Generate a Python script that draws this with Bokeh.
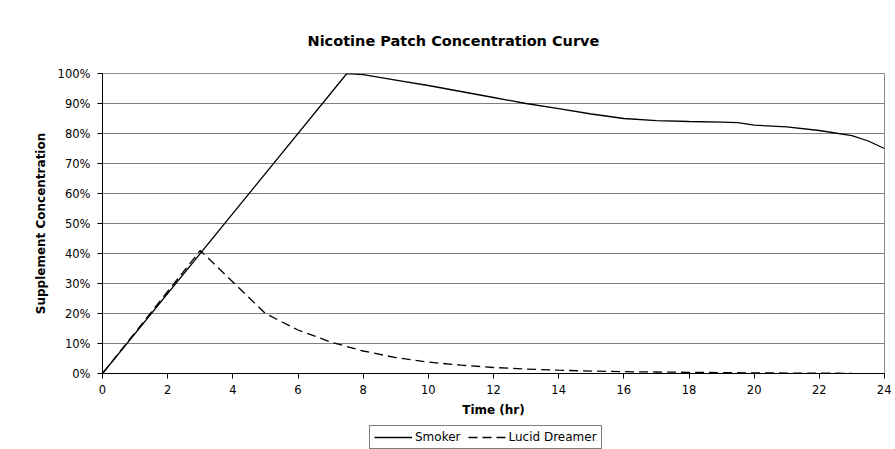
from bokeh.plotting import figure
from bokeh.layouts import column
from bokeh.models import FixedTicker, NumeralTickFormatter, Legend, LegendItem, Range1d
from bokeh.embed import file_html
from bokeh.resources import INLINE

# Data
smoker_t = [0, 7.5, 8, 9, 10, 11, 12, 13, 14, 15, 16, 17, 18, 19, 19.5, 20, 21, 22, 23, 23.5, 24]
smoker_v = [0, 100, 99.6, 97.8, 96, 94, 92, 90, 88.3, 86.5, 85, 84.3, 84, 83.8, 83.6, 82.8, 82.2, 81, 79.3, 77.5, 75]
lucid_t = [0, 3, 4, 5, 6, 7, 8, 9, 10, 11, 12, 13, 14, 15, 16, 17, 18, 19, 20, 21, 22, 23]
lucid_v = [0, 41, 30.5, 20, 14.5, 10.5, 7.5, 5.3, 3.8, 2.8, 2.0, 1.5, 1.1, 0.8, 0.6, 0.5, 0.4, 0.3, 0.2, 0.15, 0.1, 0.05]
x_ticks = [0, 2, 4, 6, 8, 10, 12, 14, 16, 18, 20, 22, 24]
y_ticks = [0, 0.1, 0.2, 0.3, 0.4, 0.5, 0.6, 0.7, 0.8, 0.9, 1.0]
series_names = ["Smoker", "Lucid Dreamer"]

FONT = "DejaVu Sans"
DASH = "9 5"

p = figure(width=891, height=420, output_backend="svg", toolbar_location=None,
           x_range=Range1d(0, 24), y_range=Range1d(0, 1),
           min_border_left=102, min_border_right=7, min_border_top=73, min_border_bottom=47)

p.title.text = "Nicotine Patch Concentration Curve"
p.title.align = "left"
p.title.offset = 205
p.title.standoff = 50
p.title.text_font = FONT
p.title.text_font_size = "14.5px"
p.title.text_font_style = "bold"
p.title.text_color = "black"

p.background_fill_color = "white"
p.border_fill_color = "white"
p.outline_line_color = "#8c8c8c"
p.outline_line_width = 1

s = p.line(smoker_t, [v / 100 for v in smoker_v], line_color="black", line_width=1.3)
l = p.line(lucid_t, [v / 100 for v in lucid_v], line_color="black", line_width=1.3,
           line_dash=DASH)

# axes
p.xaxis.ticker = FixedTicker(ticks=x_ticks)
p.yaxis.ticker = FixedTicker(ticks=y_ticks)
p.yaxis.formatter = NumeralTickFormatter(format="0%")
for ax in (p.xaxis, p.yaxis):
    ax.axis_line_color = "black"
    ax.major_tick_line_color = "black"
    ax.major_tick_out = 5
    ax.major_tick_in = 0
    ax.minor_tick_line_color = None
    ax.major_label_text_font = FONT
    ax.major_label_text_font_size = "11.5px"
    ax.major_label_text_color = "black"
    ax.axis_label_text_font = FONT
    ax.axis_label_text_font_size = "12px"
    ax.axis_label_text_font_style = "bold"
    ax.axis_label_text_color = "black"
p.xaxis.axis_label = "Time (hr)"
p.yaxis.axis_label = "Supplement Concentration"
p.xaxis.major_label_standoff = 6
p.yaxis.major_label_standoff = 7
p.xaxis.axis_label_standoff = 6
p.yaxis.axis_label_standoff = 7

p.xgrid.grid_line_color = None
p.ygrid.grid_line_color = "#7f7f7f"
p.ygrid.grid_line_width = 1

# legend in its own strip below the chart (frames of the column are aligned)
lg = figure(width=891, height=29, output_backend="svg", toolbar_location=None,
            x_range=Range1d(0, 1), y_range=Range1d(0, 1),
            x_axis_type=None, y_axis_type=None, min_border=0)
lg.outline_line_color = None
lg.xgrid.grid_line_color = None
lg.ygrid.grid_line_color = None
# lines kept outside the visible range: they only supply the legend glyphs
ls = lg.line([5, 6], [5, 6], line_color="black", line_width=1.3)
ll = lg.line([5, 6], [5, 6], line_color="black", line_width=1.3, line_dash=DASH)
legend = Legend(items=[LegendItem(label=series_names[0], renderers=[ls]),
                       LegendItem(label=series_names[1], renderers=[ll])],
                orientation="horizontal", location=(267, 0),
                border_line_color="black", border_line_width=1,
                label_text_font=FONT, label_text_font_size="12px", label_text_color="black",
                glyph_width=38, glyph_height=12, label_height=12, spacing=7, padding=4,
                margin=0, label_standoff=3, background_fill_color="white")
lg.add_layout(legend, "center")

layout = column(p, lg, spacing=0)
open("out.html", "w").write(file_html(layout, INLINE))
